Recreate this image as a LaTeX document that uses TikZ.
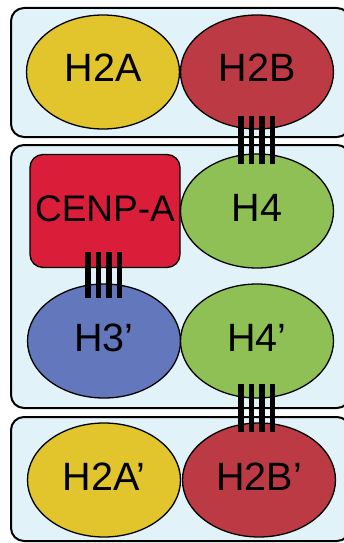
\documentclass[tikz,border=0pt]{standalone}
\usepackage{fontspec}
\setmainfont{Liberation Sans}
\usetikzlibrary{shapes.geometric}
\definecolor{panel}{HTML}{E1F3F8}
\definecolor{hyellow}{HTML}{E2C42C}
\definecolor{hred}{HTML}{BC3A44}
\definecolor{cenpred}{HTML}{DA1E3A}
\definecolor{hgreen}{HTML}{8EC055}
\definecolor{hblue}{HTML}{6378BC}
\begin{document}
\begin{tikzpicture}[x=1pt,y=-1pt,
  panelbox/.style={draw=black, line width=2pt, fill=panel, rounded corners=13pt},
  histone/.style={ellipse, draw=black, line width=1.3pt, minimum width=153pt,
    minimum height=114pt, inner sep=0pt, outer sep=0pt},
  cenpbox/.style={rectangle, draw=black, line width=1.3pt, fill=cenpred,
    rounded corners=13pt, minimum width=150pt, minimum height=113pt,
    inner sep=0pt, outer sep=0pt},
  lbl/.style={font=\fontsize{39.5}{39.5}\selectfont, inner sep=0pt},
  bar/.style={line width=5.2pt, black}]
\useasboundingbox (0,0) rectangle (344,543);
\begin{scope}
\clip (0,0) rectangle (344,543);
% three panels
\draw[panelbox] (11,8) rectangle (350,137);
\draw[panelbox] (11,145) rectangle (350,408);
\draw[panelbox] (11,417) rectangle (350,541);
\end{scope}

% top dimer
\node[histone, fill=hyellow] (h2a) at (103,72) {};
\node[histone, fill=hred] (h2b) at (257,72) {};
% tetramer
\node[cenpbox] (cenpa) at (105,211) {};
\node[histone, fill=hgreen] (h4) at (257,211) {};
\node[histone, fill=hblue] (h3) at (104,341) {};
\node[histone, fill=hgreen] (h4p) at (257,341) {};
% bottom dimer
\node[histone, fill=hyellow] (h2ap) at (104,480) {};
\node[histone, fill=hred] (h2bp) at (259,480) {};

% labels
\node[lbl] (th2a) at (103,68) {H2A};
\node[lbl] (th2b) at (257,68) {H2B};
\node[lbl, font=\fontsize{37}{37}\selectfont] (tcenpa) at (105,209) {CENP-A};
\node[lbl] (th4) at (257,208) {H4};
\node[lbl] (th3) at (104,338) {H3’};
\node[lbl] (th4p) at (257,338) {H4’};
\node[lbl] (th2ap) at (104,477) {H2A’};
\node[lbl] (th2bp) at (259,477) {H2B’};

% four-bar contacts
\foreach \d in {-16,-5.5,5,15.5}{
  \draw[bar] ([xshift=\d pt, yshift=13pt]h2b.south) -- ([xshift=\d pt, yshift=-10pt]h4.north);
  \draw[bar] ([xshift=\d pt, yshift=16pt]h3.north |- cenpa.south) -- ([xshift=\d pt, yshift=-14pt]h3.north);
  \draw[bar] ([xshift=\d pt, yshift=14pt]h4p.south) -- ([xshift=\d pt, yshift=-9pt]h4p.south |- h2bp.north);
}
\end{tikzpicture}
\end{document}
